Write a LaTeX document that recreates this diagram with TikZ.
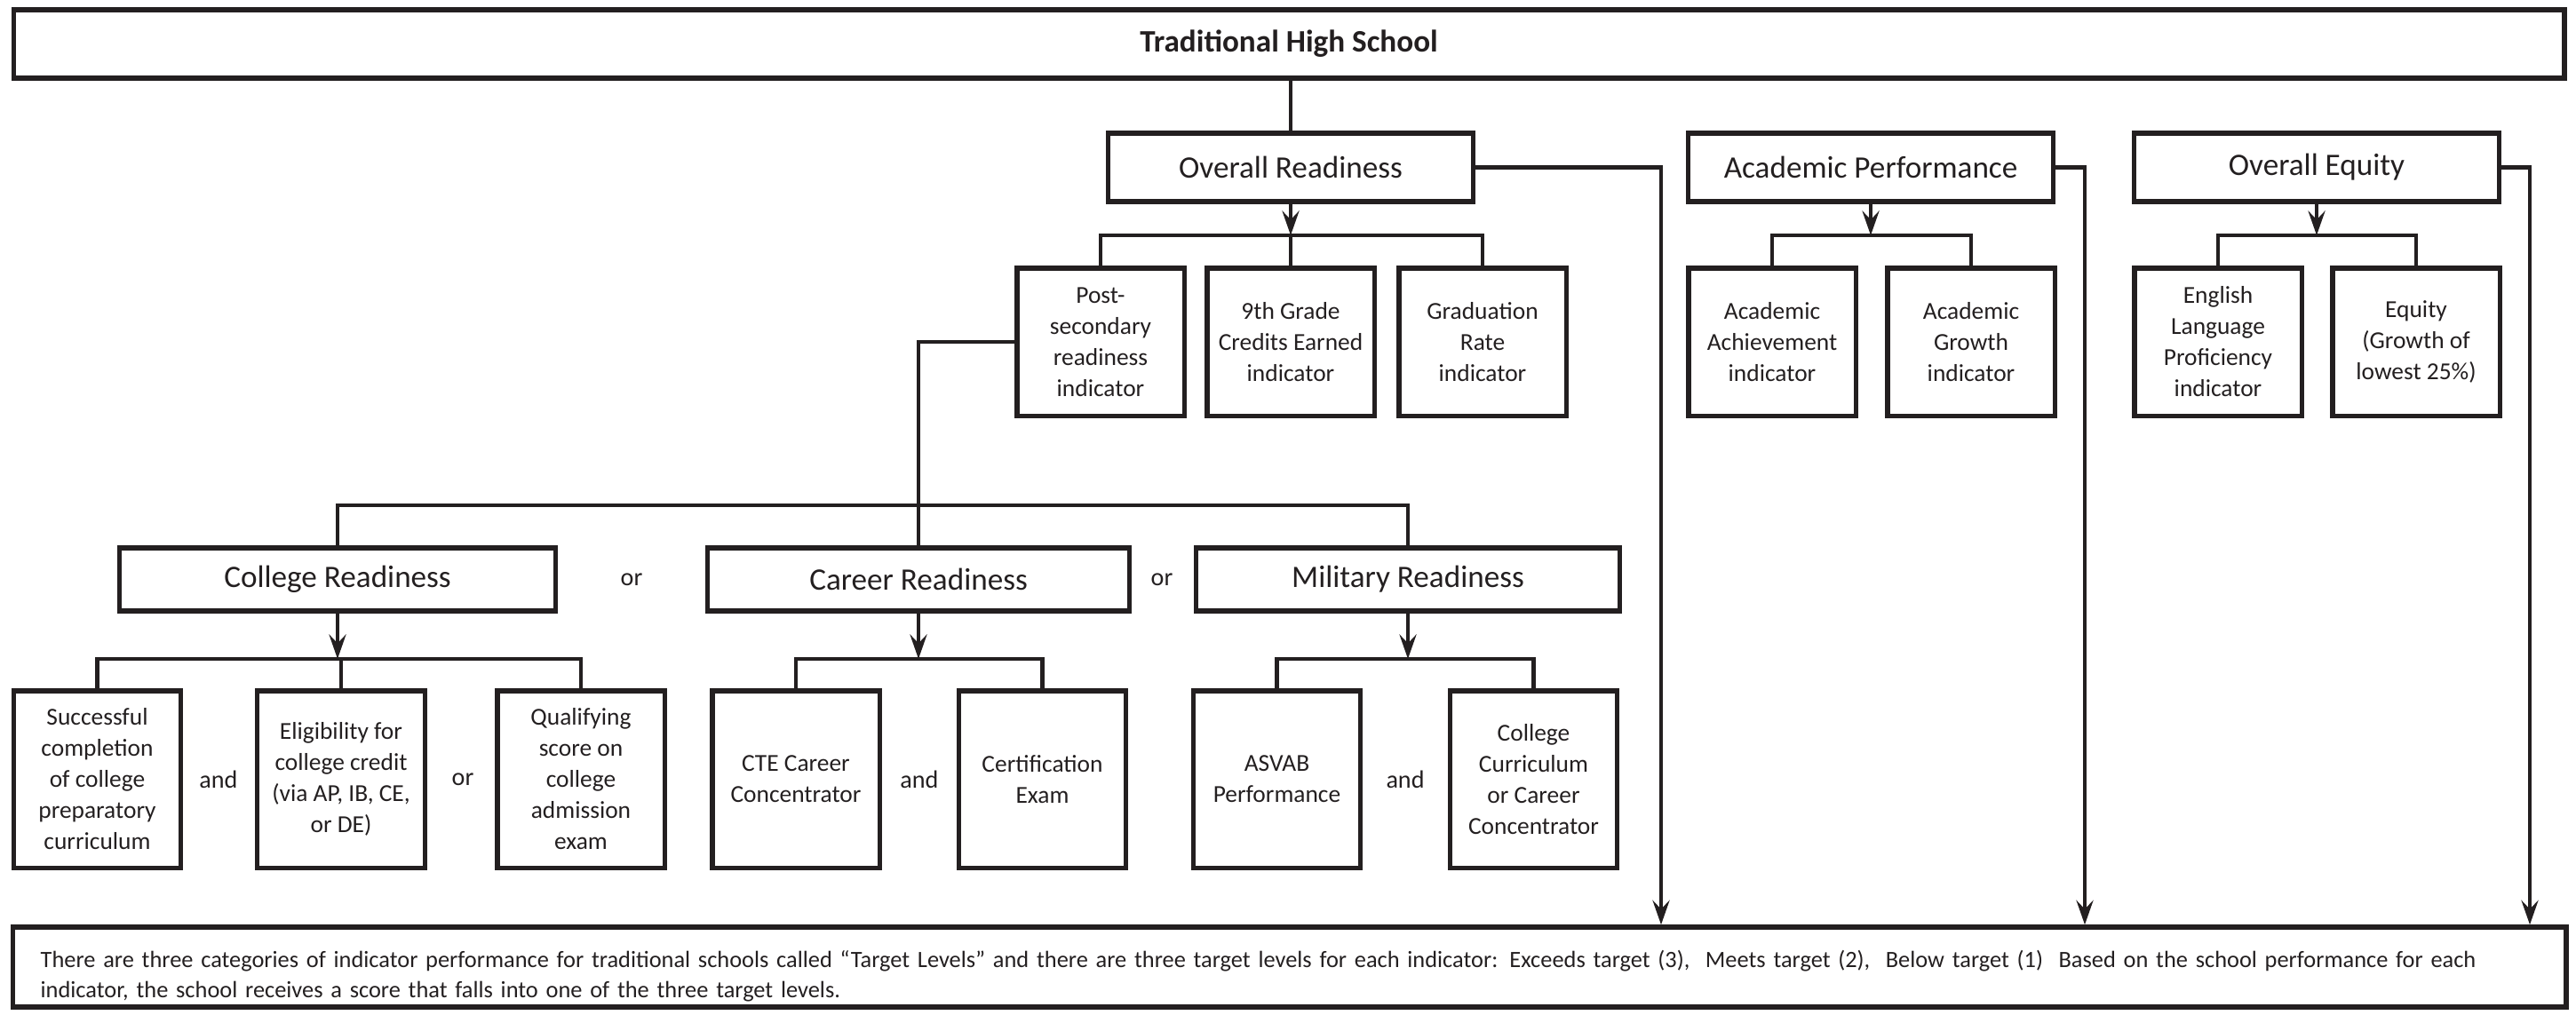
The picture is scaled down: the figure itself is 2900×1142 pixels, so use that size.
\documentclass[tikz,border=0pt]{standalone}
\usepackage{fontspec}
\setmainfont{Carlito}
\usetikzlibrary{arrows.meta}
\definecolor{ink}{HTML}{231F20}
\tikzset{
  frame/.style={draw=ink, line width=1.5pt, text=ink, inner sep=0pt},
  headbox/.style={draw=ink, line width=1.45pt, text=ink, minimum width=4.1cm, minimum height=0.77cm, font=\fontsize{10}{12}\selectfont},
  readybox/.style={headbox, minimum height=0.71cm},
  indbox/.style={draw=ink, line width=1.45pt, text=ink, inner sep=0pt, align=center, minimum width=1.88cm, minimum height=1.66cm, font=\fontsize{7.8}{9.96}\selectfont},
  partbox/.style={indbox, minimum height=1.99cm},
  joiner/.style={text=ink, font=\fontsize{8}{10}\selectfont},
  conn/.style={draw=ink, line width=1.35pt},
  arrow/.style={conn, -{Stealth[length=7.8pt,width=5.4pt,inset=2.8pt]}}
}
\begin{document}
\begin{tikzpicture}[x=0.01cm, y=-0.01cm]
\useasboundingbox (0,0) rectangle (2900,1142);
% title and bottom note
\node[frame, minimum width=28.7cm, minimum height=0.77cm, font=\bfseries\fontsize{10}{12}\selectfont] (title) at (1451,49.5) {Traditional High School};
\node[frame, minimum width=28.73cm, minimum height=0.9cm, text width=28.1cm, align=left, font=\fontsize{7.5}{9.8}\selectfont] (note) at (1451.5,1089)
  {\rule{0pt}{0.4cm}There are three categories of indicator performance for traditional schools called “Target Levels” and there are three target levels for each indicator: Exceeds target (3),~ Meets target (2),~ Below target (1)~ Based on the school performance for each\\
   indicator, the school receives a score that falls into one of the three target levels.};
% top level
\node[headbox] (readiness) at (1453,188.5) {Overall Readiness};
\node[headbox] (academic) at (2106,188.5) {Academic Performance};
\node[headbox] (equity) at (2608,188.5) {Overall Equity};
% indicators
\node[indbox] (postsec) at (1239,385) {Post-\\secondary\\readiness\\indicator};
\node[indbox] (ninth) at (1453,385) {9th Grade\\Credits Earned\\indicator};
\node[indbox] (gradrate) at (1669,385) {Graduation\\Rate\\indicator};
\node[indbox] (achieve) at (1995,385) {Academic\\Achievement\\indicator};
\node[indbox] (growth) at (2219,385) {Academic\\Growth\\indicator};
\node[indbox] (elp) at (2497,385) {English\\Language\\Proficiency\\indicator};
\node[indbox] (lowest) at (2720,385) {Equity\\(Growth of\\lowest 25\%)};
% readiness types
\node[readybox, minimum width=4.9cm] (college) at (380,652.5) {College Readiness};
\node[readybox, minimum width=4.74cm] (career) at (1034,652.5) {Career Readiness};
\node[readybox, minimum width=4.76cm] (military) at (1585,652.5) {Military Readiness};
\node[joiner] (or1) at (711,652.5) {or};
\node[joiner] (or2) at (1308,652.5) {or};
% readiness parts
\node[partbox] (prepcurr) at (109.5,877.5) {Successful\\completion\\of college\\preparatory\\curriculum};
\node[partbox] (credit) at (384,877.5) {Eligibility for\\college credit\\(via AP, IB, CE,\\or DE)};
\node[partbox] (admit) at (654,877.5) {Qualifying\\score on\\college\\admission\\exam};
\node[partbox] (cte) at (896,877.5) {CTE Career\\Concentrator};
\node[partbox] (cert) at (1173.5,877.5) {Certification\\Exam};
\node[partbox] (asvab) at (1437.5,877.5) {ASVAB\\Performance};
\node[partbox] (milcurr) at (1726.5,877.5) {College\\Curriculum\\or Career\\Concentrator};
\node[joiner] (and1) at (246,877.5) {and};
\node[joiner] (or3) at (521,877.5) {or};
\node[joiner] (and2) at (1035,877.5) {and};
\node[joiner] (and3) at (1582,877.5) {and};
% bus levels
\coordinate (indbus) at (0,265);
\coordinate (typebus) at (0,569);
\coordinate (partbus) at (0,742);
\coordinate (readiness-drop) at (1870,188.5);
\coordinate (academic-drop) at (2347,188.5);
\coordinate (equity-drop) at (2848,188.5);
% connectors
\draw[conn] (title.south -| readiness.north) -- (readiness.north);
\foreach \top in {readiness,academic,equity}
  \draw[arrow] (\top.south) -- (\top.south |- indbus);
\draw[conn] (postsec.north) |- (gradrate.north |- indbus) -- (gradrate.north);
\draw[conn] (ninth.north) -- (ninth.north |- indbus);
\draw[conn] (achieve.north) |- (growth.north |- indbus) -- (growth.north);
\draw[conn] (elp.north) |- (lowest.north |- indbus) -- (lowest.north);
\draw[conn] (postsec.west) -| (career.north);
\draw[conn] (college.north) |- (military.north |- typebus) -- (military.north);
\foreach \top in {college,career,military}
  \draw[arrow] (\top.south) -- (\top.south |- partbus);
\draw[conn] (prepcurr.north) |- (admit.north |- partbus) -- (admit.north);
\draw[conn] (credit.north) -- (credit.north |- partbus);
\draw[conn] (cte.north) |- (cert.north |- partbus) -- (cert.north);
\draw[conn] (asvab.north) |- (milcurr.north |- partbus) -- (milcurr.north);
\foreach \top in {readiness,academic,equity}
  \draw[arrow] (\top.east) -- (\top-drop) -- (\top-drop |- note.north);
\end{tikzpicture}
\end{document}
